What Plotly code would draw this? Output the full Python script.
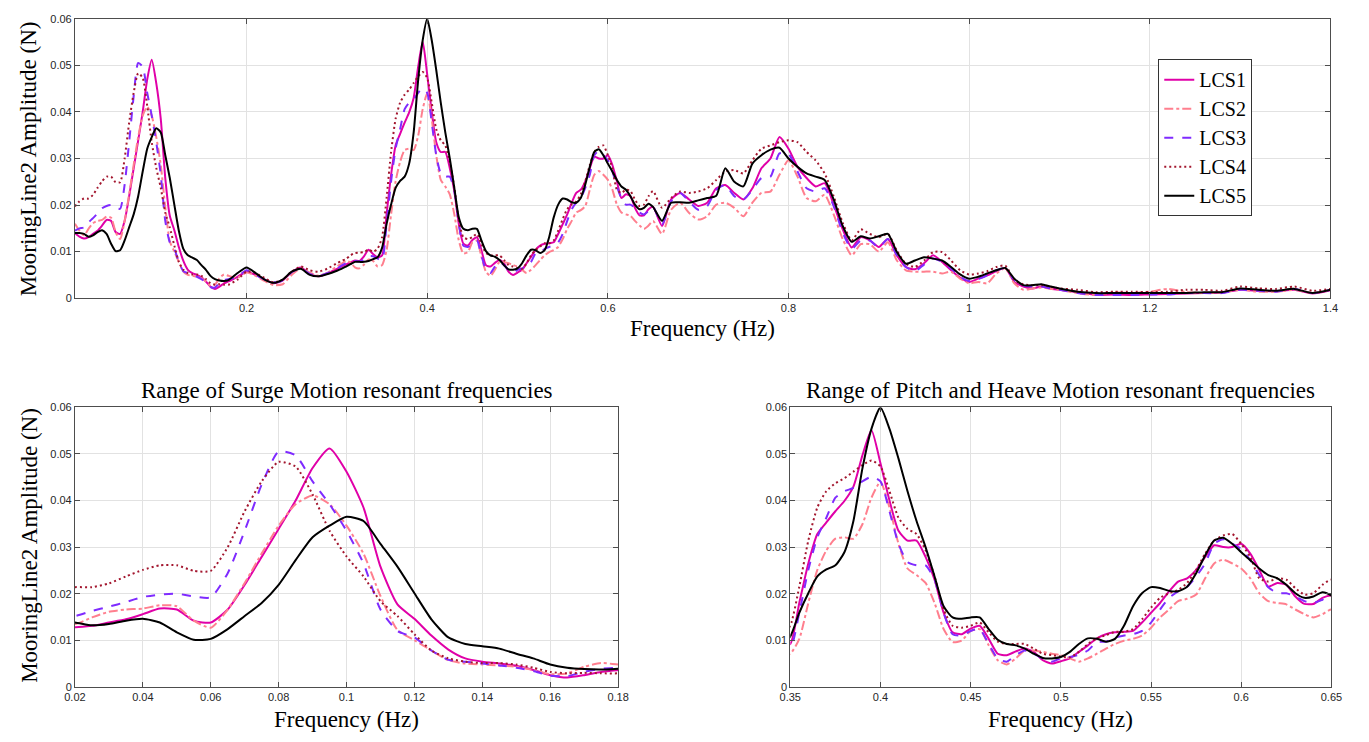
import plotly.graph_objects as go

# ---------------- data ----------------
freq = [
    0.010, 0.015, 0.020, 0.025, 0.030, 0.035, 0.040, 0.045, 0.050, 0.055,
    0.060, 0.065, 0.070, 0.075, 0.080, 0.085, 0.090, 0.095, 0.100, 0.105,
    0.110, 0.115, 0.120, 0.125, 0.130, 0.135, 0.140, 0.145, 0.150, 0.155,
    0.160, 0.165, 0.170, 0.175, 0.180,
    0.19, 0.20, 0.21, 0.22, 0.23, 0.24, 0.25, 0.26, 0.27, 0.28, 0.29,
    0.300, 0.305, 0.310, 0.315, 0.320, 0.325, 0.330, 0.335, 0.340, 0.345,
    0.350, 0.355, 0.360, 0.365, 0.370, 0.375, 0.380, 0.385, 0.390, 0.395,
    0.400, 0.405, 0.410, 0.415, 0.420, 0.425, 0.430, 0.435, 0.440, 0.445,
    0.450, 0.455, 0.460, 0.465, 0.470, 0.475, 0.480, 0.485, 0.490, 0.495,
    0.500, 0.505, 0.510, 0.515, 0.520, 0.525, 0.530, 0.535, 0.540, 0.545,
    0.550, 0.555, 0.560, 0.565, 0.570, 0.575, 0.580, 0.585, 0.590, 0.595,
    0.600, 0.605, 0.610, 0.615, 0.620, 0.625, 0.630, 0.635, 0.640, 0.645,
    0.650,
    0.66, 0.67, 0.68, 0.69, 0.70, 0.71, 0.72, 0.73, 0.74, 0.75,
    0.76, 0.77, 0.78, 0.79, 0.80, 0.81, 0.82, 0.83, 0.84, 0.85,
    0.86, 0.87, 0.88, 0.89, 0.90, 0.91, 0.92, 0.93, 0.94, 0.95,
    0.96, 0.97, 0.98, 0.99, 1.00, 1.01, 1.02, 1.03, 1.04, 1.05,
    1.06, 1.07, 1.08, 1.09, 1.10,
    1.12, 1.14, 1.16, 1.18, 1.20, 1.22, 1.24, 1.26, 1.28, 1.30,
    1.32, 1.34, 1.36, 1.38, 1.40,
]

lcs1 = [
    0.0140, 0.0132, 0.0128, 0.0131, 0.0138, 0.0145, 0.0156, 0.0168, 0.0166, 0.0142,
    0.0138, 0.0166, 0.0219, 0.0279, 0.0339, 0.0400, 0.0470, 0.0512, 0.0462, 0.0385,
    0.0258, 0.0177, 0.0146, 0.0110, 0.0080, 0.0061, 0.0054, 0.0050, 0.0045, 0.0036,
    0.0025, 0.0020, 0.0025, 0.0032, 0.0036,
    0.0046, 0.0057, 0.0050, 0.0040, 0.0032, 0.0038, 0.0056, 0.0066, 0.0052, 0.0047, 0.0054,
    0.0063, 0.0068, 0.0072, 0.0077, 0.0081, 0.0080, 0.0090, 0.0104, 0.0095, 0.0088,
    0.0092, 0.0180, 0.0265, 0.0328, 0.0353, 0.0377, 0.0399, 0.0430, 0.0497, 0.0551,
    0.0480, 0.0400, 0.0335, 0.0314, 0.0314, 0.0279, 0.0230, 0.0159, 0.0117, 0.0113,
    0.0125, 0.0131, 0.0103, 0.0071, 0.0068, 0.0076, 0.0082, 0.0075, 0.0057, 0.0050,
    0.0055, 0.0061, 0.0075, 0.0089, 0.0104, 0.0113, 0.0117, 0.0118, 0.0120, 0.0138,
    0.0159, 0.0180, 0.0205, 0.0226, 0.0233, 0.0251, 0.0279, 0.0304, 0.0300, 0.0300,
    0.0307, 0.0286, 0.0251, 0.0215, 0.0223, 0.0219, 0.0194, 0.0178, 0.0178, 0.0191,
    0.0196,
    0.0155, 0.0212, 0.0226, 0.0212, 0.0198, 0.0205, 0.0236, 0.0243, 0.0226, 0.0212,
    0.0236, 0.0279, 0.0300, 0.0346, 0.0321, 0.0282, 0.0258, 0.0240, 0.0247, 0.0201,
    0.0148, 0.0109, 0.0131, 0.0124, 0.0110, 0.0127, 0.0092, 0.0067, 0.0062, 0.0075,
    0.0092, 0.0078, 0.0060, 0.0044, 0.0035, 0.0042, 0.0049, 0.0058, 0.0065, 0.0035,
    0.0025, 0.0021, 0.0025, 0.0021, 0.0018,
    0.0013, 0.0007, 0.0008, 0.0007, 0.0008, 0.0009, 0.0010, 0.0011, 0.0012, 0.0018,
    0.0016, 0.0015, 0.0018, 0.0010, 0.0017,
]

lcs2 = [
    0.0160, 0.0145, 0.0135, 0.0149, 0.0161, 0.0166, 0.0168, 0.0175, 0.0173, 0.0142,
    0.0127, 0.0166, 0.0223, 0.0286, 0.0346, 0.0392, 0.0411, 0.0392, 0.0346, 0.0286,
    0.0195, 0.0122, 0.0100, 0.0078, 0.0057, 0.0050, 0.0048, 0.0046, 0.0043, 0.0036,
    0.0027, 0.0029, 0.0043, 0.0051, 0.0048,
    0.0044, 0.0055, 0.0048, 0.0037, 0.0028, 0.0030, 0.0050, 0.0064, 0.0055, 0.0048, 0.0055,
    0.0068, 0.0074, 0.0080, 0.0077, 0.0066, 0.0064, 0.0072, 0.0083, 0.0080, 0.0068,
    0.0071, 0.0103, 0.0180, 0.0251, 0.0293, 0.0318, 0.0321, 0.0318, 0.0349, 0.0406,
    0.0440, 0.0385, 0.0307, 0.0254, 0.0240, 0.0223, 0.0180, 0.0124, 0.0096, 0.0099,
    0.0120, 0.0124, 0.0089, 0.0057, 0.0048, 0.0061, 0.0078, 0.0078, 0.0075, 0.0071,
    0.0068, 0.0061, 0.0054, 0.0061, 0.0071, 0.0082, 0.0092, 0.0099, 0.0103, 0.0110,
    0.0127, 0.0149, 0.0166, 0.0184, 0.0189, 0.0198, 0.0233, 0.0265, 0.0273, 0.0265,
    0.0254, 0.0233, 0.0201, 0.0184, 0.0180, 0.0177, 0.0166, 0.0156, 0.0149, 0.0156,
    0.0166,
    0.0138, 0.0190, 0.0205, 0.0183, 0.0169, 0.0176, 0.0201, 0.0205, 0.0194, 0.0176,
    0.0205, 0.0226, 0.0229, 0.0265, 0.0296, 0.0261, 0.0215, 0.0208, 0.0222, 0.0180,
    0.0127, 0.0092, 0.0116, 0.0116, 0.0100, 0.0120, 0.0081, 0.0060, 0.0057, 0.0057,
    0.0057, 0.0053, 0.0057, 0.0042, 0.0032, 0.0035, 0.0032, 0.0053, 0.0064, 0.0032,
    0.0018, 0.0021, 0.0023, 0.0020, 0.0018,
    0.0011, 0.0007, 0.0013, 0.0011, 0.0014, 0.0020, 0.0013, 0.0011, 0.0013, 0.0018,
    0.0014, 0.0014, 0.0018, 0.0011, 0.0018,
]

lcs3 = [
    0.0145, 0.0150, 0.0152, 0.0163, 0.0172, 0.0182, 0.0193, 0.0198, 0.0200, 0.0194,
    0.0192, 0.0244, 0.0335, 0.0434, 0.0505, 0.0497, 0.0441, 0.0392, 0.0335, 0.0265,
    0.0166, 0.0120, 0.0106, 0.0078, 0.0058, 0.0054, 0.0050, 0.0046, 0.0041, 0.0034,
    0.0024, 0.0023, 0.0032, 0.0039, 0.0041,
    0.0046, 0.0060, 0.0050, 0.0040, 0.0034, 0.0038, 0.0056, 0.0064, 0.0052, 0.0048, 0.0054,
    0.0063, 0.0070, 0.0075, 0.0078, 0.0080, 0.0079, 0.0082, 0.0090, 0.0090, 0.0085,
    0.0082, 0.0159, 0.0251, 0.0321, 0.0363, 0.0406, 0.0420, 0.0427, 0.0441, 0.0451,
    0.0441, 0.0377, 0.0307, 0.0268, 0.0261, 0.0261, 0.0230, 0.0159, 0.0113, 0.0110,
    0.0120, 0.0124, 0.0092, 0.0061, 0.0054, 0.0068, 0.0078, 0.0071, 0.0061, 0.0054,
    0.0061, 0.0064, 0.0069, 0.0078, 0.0096, 0.0097, 0.0106, 0.0110, 0.0113, 0.0120,
    0.0138, 0.0166, 0.0191, 0.0205, 0.0215, 0.0237, 0.0265, 0.0307, 0.0317, 0.0307,
    0.0296, 0.0272, 0.0240, 0.0214, 0.0201, 0.0201, 0.0194, 0.0184, 0.0180, 0.0187,
    0.0196,
    0.0159, 0.0208, 0.0226, 0.0208, 0.0190, 0.0198, 0.0233, 0.0243, 0.0219, 0.0212,
    0.0233, 0.0258, 0.0261, 0.0311, 0.0310, 0.0272, 0.0236, 0.0229, 0.0236, 0.0198,
    0.0141, 0.0106, 0.0124, 0.0124, 0.0109, 0.0127, 0.0092, 0.0067, 0.0058, 0.0072,
    0.0085, 0.0078, 0.0064, 0.0046, 0.0037, 0.0041, 0.0049, 0.0060, 0.0064, 0.0039,
    0.0027, 0.0025, 0.0025, 0.0021, 0.0018,
    0.0011, 0.0007, 0.0007, 0.0007, 0.0008, 0.0008, 0.0011, 0.0011, 0.0011, 0.0018,
    0.0016, 0.0014, 0.0020, 0.0011, 0.0018,
]

lcs4 = [
    0.0197, 0.0208, 0.0214, 0.0214, 0.0222, 0.0237, 0.0251, 0.0261, 0.0261, 0.0249,
    0.0249, 0.0300, 0.0377, 0.0441, 0.0483, 0.0473, 0.0413, 0.0335, 0.0280, 0.0237,
    0.0184, 0.0152, 0.0113, 0.0078, 0.0061, 0.0054, 0.0051, 0.0051, 0.0048, 0.0041,
    0.0032, 0.0029, 0.0030, 0.0029, 0.0029,
    0.0040, 0.0057, 0.0054, 0.0043, 0.0034, 0.0040, 0.0057, 0.0068, 0.0060, 0.0057, 0.0064,
    0.0075, 0.0080, 0.0084, 0.0092, 0.0097, 0.0098, 0.0099, 0.0104, 0.0100, 0.0106,
    0.0131, 0.0215, 0.0314, 0.0385, 0.0420, 0.0437, 0.0448, 0.0462, 0.0476, 0.0486,
    0.0473, 0.0420, 0.0363, 0.0339, 0.0328, 0.0293, 0.0237, 0.0166, 0.0131, 0.0127,
    0.0131, 0.0138, 0.0117, 0.0097, 0.0092, 0.0092, 0.0092, 0.0082, 0.0071, 0.0068,
    0.0065, 0.0063, 0.0075, 0.0092, 0.0104, 0.0111, 0.0118, 0.0118, 0.0124, 0.0145,
    0.0170, 0.0191, 0.0201, 0.0208, 0.0223, 0.0251, 0.0286, 0.0314, 0.0325, 0.0328,
    0.0307, 0.0279, 0.0233, 0.0226, 0.0233, 0.0230, 0.0212, 0.0198, 0.0201, 0.0219,
    0.0230,
    0.0194, 0.0215, 0.0229, 0.0226, 0.0229, 0.0236, 0.0254, 0.0272, 0.0275, 0.0268,
    0.0296, 0.0321, 0.0328, 0.0335, 0.0339, 0.0335, 0.0314, 0.0296, 0.0268, 0.0219,
    0.0162, 0.0124, 0.0148, 0.0138, 0.0131, 0.0138, 0.0102, 0.0074, 0.0067, 0.0081,
    0.0099, 0.0099, 0.0081, 0.0060, 0.0051, 0.0053, 0.0058, 0.0067, 0.0070, 0.0039,
    0.0030, 0.0028, 0.0028, 0.0025, 0.0021,
    0.0018, 0.0013, 0.0014, 0.0014, 0.0013, 0.0014, 0.0018, 0.0018, 0.0016, 0.0025,
    0.0021, 0.0020, 0.0025, 0.0016, 0.0020,
]

lcs5 = [
    0.0140, 0.0140, 0.0138, 0.0132, 0.0135, 0.0142, 0.0146, 0.0138, 0.0117, 0.0101,
    0.0103, 0.0124, 0.0152, 0.0180, 0.0219, 0.0272, 0.0321, 0.0346, 0.0365, 0.0356,
    0.0307, 0.0258, 0.0201, 0.0145, 0.0106, 0.0092, 0.0087, 0.0082, 0.0071, 0.0061,
    0.0048, 0.0041, 0.0038, 0.0037, 0.0039,
    0.0054, 0.0066, 0.0054, 0.0040, 0.0033, 0.0040, 0.0057, 0.0063, 0.0050, 0.0047, 0.0052,
    0.0059, 0.0063, 0.0068, 0.0073, 0.0078, 0.0078, 0.0078, 0.0080, 0.0084, 0.0088,
    0.0108, 0.0159, 0.0201, 0.0237, 0.0252, 0.0261, 0.0289, 0.0356, 0.0469, 0.0554,
    0.0600, 0.0554, 0.0490, 0.0420, 0.0356, 0.0300, 0.0237, 0.0173, 0.0149, 0.0146,
    0.0149, 0.0149, 0.0124, 0.0101, 0.0092, 0.0089, 0.0082, 0.0071, 0.0062, 0.0061,
    0.0064, 0.0075, 0.0092, 0.0104, 0.0103, 0.0097, 0.0103, 0.0131, 0.0173, 0.0201,
    0.0214, 0.0212, 0.0206, 0.0205, 0.0215, 0.0244, 0.0282, 0.0314, 0.0320, 0.0307,
    0.0289, 0.0272, 0.0254, 0.0240, 0.0233, 0.0219, 0.0201, 0.0191, 0.0194, 0.0203,
    0.0196,
    0.0166, 0.0205, 0.0206, 0.0205, 0.0210, 0.0215, 0.0220, 0.0279, 0.0250, 0.0240,
    0.0289, 0.0307, 0.0319, 0.0323, 0.0300, 0.0282, 0.0268, 0.0261, 0.0254, 0.0212,
    0.0155, 0.0121, 0.0133, 0.0128, 0.0133, 0.0138, 0.0099, 0.0074, 0.0081, 0.0088,
    0.0085, 0.0081, 0.0067, 0.0051, 0.0042, 0.0046, 0.0053, 0.0060, 0.0065, 0.0042,
    0.0028, 0.0028, 0.0030, 0.0025, 0.0021,
    0.0014, 0.0011, 0.0011, 0.0011, 0.0011, 0.0011, 0.0011, 0.0013, 0.0013, 0.0021,
    0.0018, 0.0016, 0.0020, 0.0011, 0.0018,
]

series_names = ["LCS1", "LCS2", "LCS3", "LCS4", "LCS5"]
series_values = [lcs1, lcs2, lcs3, lcs4, lcs5]
for v in series_values:
    assert len(v) == len(freq), (len(v), len(freq))

# ---------------- styling ----------------
colors = ["#E000A8", "#FF7F8E", "#7F2BFF", "#A3162E", "#000000"]
dashes = ["solid", "dashdot", "dash", "2px,3px", "solid"]

W, H = 1369, 742
def px(x):
    return x / W
def py(y):
    return 1 - y / H

SERIF = "Liberation Serif, Times New Roman, serif"
SANS = "Liberation Sans, Arial, sans-serif"

fig = go.Figure()
axis_pairs = [("x", "y"), ("x2", "y2"), ("x3", "y3")]
for i, (xa, ya) in enumerate(axis_pairs):
    for name, vals, col, dash in zip(series_names, series_values, colors, dashes):
        fig.add_trace(go.Scatter(
            x=freq, y=vals, mode="lines", name=name,
            xaxis=xa, yaxis=ya,
            line=dict(color=col, width=2, dash=dash, shape="spline", smoothing=0.6),
            showlegend=(i == 0), hoverinfo="skip",
        ))

axis_common = dict(
    showline=True, linecolor="#4d4d4d", linewidth=1, mirror="ticks",
    ticks="inside", ticklen=5, tickcolor="#4d4d4d",
    showgrid=True, gridcolor="#E2E2E2", gridwidth=1, zeroline=False,
    tickfont=dict(family=SANS, size=11, color="#262626"),
)

fig.update_layout(
    width=W, height=H,
    margin=dict(l=0, r=0, t=0, b=0),
    paper_bgcolor="white", plot_bgcolor="white",
    xaxis=dict(axis_common, domain=[px(65), px(1341)], range=[0.01, 1.4],
               tickvals=[0.2, 0.4, 0.6, 0.8, 1.0, 1.2, 1.4], anchor="y"),
    yaxis=dict(axis_common, domain=[py(297), py(13)], range=[0, 0.06],
               tick0=0, dtick=0.01, anchor="x"),
    xaxis2=dict(axis_common, domain=[px(65), px(617)], range=[0.02, 0.18],
                tick0=0.02, dtick=0.02, anchor="y2"),
    yaxis2=dict(axis_common, domain=[py(692), py(408)], range=[0, 0.06],
                tick0=0, dtick=0.01, anchor="x2"),
    xaxis3=dict(axis_common, domain=[px(792), px(1342)], range=[0.35, 0.65],
                tick0=0.35, dtick=0.05, anchor="y3"),
    yaxis3=dict(axis_common, domain=[py(692), py(408)], range=[0, 0.06],
                tick0=0, dtick=0.01, anchor="x3"),
    legend=dict(
        x=px(1166), y=py(54), xanchor="left", yanchor="top",
        font=dict(family=SERIF, size=20, color="#000000"),
        bgcolor="white", bordercolor="#333333", borderwidth=1,
        tracegroupgap=0, itemwidth=30,
    ),
    showlegend=True,
)

ann_font = dict(family=SERIF, size=23, color="#000000")
annotations = [
    dict(text="MooringLine2 Amplitude (N)", x=px(18), y=py(155), textangle=-90),
    dict(text="MooringLine2 Amplitude (N)", x=px(18), y=py(548), textangle=-90),
    dict(text="Frequency (Hz)", x=px(703), y=py(328)),
    dict(text="Frequency (Hz)", x=px(341), y=py(725)),
    dict(text="Frequency (Hz)", x=px(1067), y=py(725)),
    dict(text="Range of Surge Motion resonant frequencies", x=px(341), y=py(391)),
    dict(text="Range of Pitch and Heave Motion resonant frequencies", x=px(1067), y=py(391)),
]
for a in annotations:
    fig.add_annotation(xref="paper", yref="paper", xanchor="center", yanchor="middle",
                       showarrow=False, font=ann_font, **a)

fig.write_html("out.html")
